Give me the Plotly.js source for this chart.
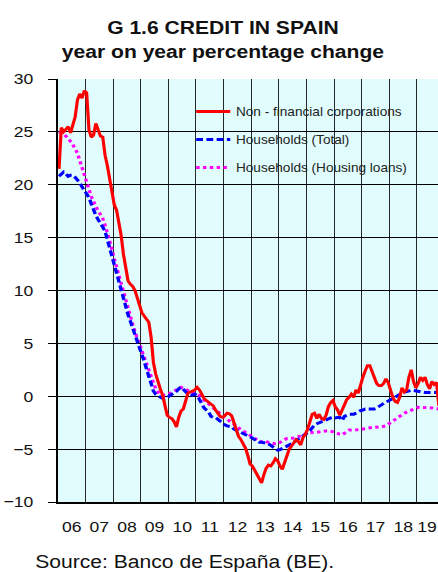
<!DOCTYPE html>
<html><head><meta charset="utf-8">
<script src="https://cdn.plot.ly/plotly-3.0.1.min.js"></script>
<style>
html,body{margin:0;padding:0;overflow:hidden;background:#fff;width:438px;height:572px}
#chart{width:386px;height:572px;transform:scaleX(1.1347);transform-origin:0 0}
</style></head><body><div id="chart"></div><script>
// Monthly series, Jan 2006 onwards (year-on-year % change)
const startYear = 2006;
const yearLabels = ['06','07','08','09','10','11','12','13','14','15','16','17','18','19'];

const nonFinancialCorporations = [
 21.5,25.4,25.0,25.3,25.5,24.9,25.8,26.4,28.0,28.6,28.2,28.9,
 28.7,25.2,24.5,24.7,25.8,25.1,24.6,24.5,22.8,21.8,20.4,19.3,
 18.1,17.6,16.3,15.2,13.4,12.3,10.9,10.6,10.4,10.0,9.2,8.5,
 7.9,7.6,7.35,7.0,5.6,3.2,2.1,1.3,0.7,0.1,-0.8,-1.8,
 -2.0,-2.1,-2.4,-2.9,-2.0,-1.4,-1.2,-0.3,0.3,0.4,0.5,0.6,
 0.85,0.6,0.2,-0.2,-0.4,-0.55,-0.7,-0.9,-1.3,-1.6,-1.9,-2.0,
 -1.85,-1.6,-1.65,-1.85,-2.5,-3.2,-3.8,-4.1,-4.5,-4.9,-5.6,-6.4,
 -6.6,-7.0,-7.4,-7.8,-8.2,-7.4,-6.8,-6.5,-6.6,-6.3,-5.9,-6.1,
 -6.6,-6.9,-6.2,-5.5,-5.0,-4.7,-4.4,-4.1,-4.3,-4.6,-3.9,-3.6,
 -3.1,-2.4,-1.7,-1.6,-2.1,-1.7,-2.1,-2.2,-1.8,-1.0,-0.6,-0.4,
 -1.0,-1.3,-1.8,-1.3,-0.8,-0.3,-0.1,0.2,-0.1,0.6,0.3,1.2,
 1.8,2.4,2.9,2.9,2.3,1.6,1.2,1.0,1.0,1.2,1.65,1.3,
 0.6,-0.1,-0.5,-0.6,-0.1,0.8,0.4,0.6,1.8,2.5,1.4,0.8,
 1.2,1.8,1.5,1.8,1.1,0.7,1.4,1.1,1.3,-0.9
];

const householdsTotal = [
 20.8,21.0,21.2,21.0,20.8,20.9,20.9,20.7,20.5,20.2,19.8,19.5,
 19.2,18.8,18.2,17.6,17.1,16.7,16.4,16.0,15.6,14.8,14.0,13.1,
 12.4,11.7,11.0,10.2,9.3,8.4,7.7,7.1,6.5,5.8,5.1,4.5,
 3.9,3.3,2.6,1.9,1.0,0.5,0.2,0.05,-0.1,-0.2,-0.25,-0.15,
 0.05,0.2,0.35,0.45,0.7,0.85,0.65,0.4,0.2,0.15,0.1,0.2,
 0.1,-0.3,-0.7,-1.1,-1.3,-1.5,-1.9,-2.0,-2.0,-2.2,-2.4,-2.55,
 -2.7,-2.8,-2.85,-2.9,-3.1,-3.2,-3.3,-3.4,-3.55,-3.65,-3.75,-3.85,
 -3.95,-4.1,-4.25,-4.35,-4.35,-4.4,-4.45,-4.5,-4.65,-4.8,-4.95,-5.1,
 -5.05,-4.95,-4.8,-4.7,-4.6,-4.5,-4.35,-4.2,-4.1,-3.95,-3.8,-3.6,
 -3.45,-3.25,-3.0,-2.7,-2.6,-2.5,-2.4,-2.3,-2.2,-2.1,-2.05,-2.0,
 -2.05,-2.0,-2.0,-2.3,-1.9,-1.8,-1.7,-1.7,-1.7,-1.6,-1.45,-1.35,
 -1.3,-1.2,-1.2,-1.2,-1.2,-1.2,-1.1,-0.95,-0.85,-0.65,-0.55,-0.45,
 -0.35,-0.2,-0.1,0.05,0.2,0.3,0.4,0.45,0.55,0.55,0.55,0.5,
 0.45,0.4,0.4,0.35,0.35,0.35,0.35,0.35,0.35,0.35
];

const householdsHousing = [
 25.0,24.9,24.8,24.6,24.4,24.1,23.8,23.4,23.0,22.3,21.6,20.9,
 20.1,19.5,18.9,18.4,17.9,17.5,17.2,16.8,16.2,15.5,14.7,13.9,
 13.0,12.2,11.3,10.6,9.8,8.9,8.1,7.4,6.8,6.1,5.5,4.9,
 4.3,3.7,3.1,2.4,1.8,1.2,0.7,0.4,0.15,0.1,0.1,0.15,
 0.25,0.35,0.5,0.6,0.8,0.85,0.75,0.65,0.55,0.45,0.4,0.3,
 0.2,0.05,-0.15,-0.35,-0.55,-0.75,-0.95,-1.15,-1.3,-1.45,-1.65,-1.85,
 -2.0,-2.15,-2.3,-2.45,-2.6,-2.8,-3.0,-3.15,-3.3,-3.4,-3.55,-3.7,
 -3.8,-3.95,-4.1,-4.3,-4.3,-4.2,-4.3,-4.35,-4.45,-4.5,-4.5,-4.5,
 -4.35,-4.2,-4.1,-4.0,-4.0,-4.0,-3.95,-3.9,-3.85,-3.75,-3.65,-3.55,
 -3.5,-3.45,-3.4,-3.4,-3.4,-3.4,-3.35,-3.3,-3.25,-3.25,-3.3,-3.35,
 -3.4,-3.5,-3.6,-3.65,-3.5,-3.3,-3.2,-3.2,-3.2,-3.2,-3.2,-3.15,
 -3.1,-3.05,-3.0,-2.95,-2.95,-2.95,-2.9,-2.9,-2.9,-2.85,-2.8,-2.65,
 -2.5,-2.3,-2.15,-2.0,-1.85,-1.7,-1.6,-1.5,-1.4,-1.3,-1.2,-1.1,
 -1.05,-1.05,-1.05,-1.05,-1.05,-1.1,-1.1,-1.15,-1.2,-1.2
];

const seriesNames = ['Non - financial corporations','Households (Total)','Households (Housing loans)'];

// month index -> decimal year (mid-month)
const months = nonFinancialCorporations.map((_, i) => startYear + (i + 0.5) / 12);
// label positions: centred in each year, last one nudged left to stay inside the picture
const labelPositions = yearLabels.map((_, i) => startYear + i + (i === yearLabels.length - 1 ? 0.36 : 0.5));

const FONT = 'Liberation Sans, Arial, Helvetica, sans-serif';
const SX = 1.1347; // horizontal stretch applied to the whole figure

const traces = [
  {x: months, y: householdsHousing, name: seriesNames[2], type: 'scatter', mode: 'lines',
   line: {color: '#FF00FF', width: 3, dash: '3px,3px'}, legendgroup: 'c', legendrank: 3},
  {x: months, y: householdsTotal, name: seriesNames[1], type: 'scatter', mode: 'lines',
   line: {color: '#0000FF', width: 3, dash: '6px,3px'}, legendgroup: 'b', legendrank: 2},
  {x: months, y: nonFinancialCorporations, name: seriesNames[0], type: 'scatter', mode: 'lines',
   line: {color: '#FF0000', width: 2.8}, legendgroup: 'a', legendrank: 1}
];

const layout = {
  width: 386, height: 572,
  margin: {l: 51, r: 0, t: 79, b: 70},
  paper_bgcolor: '#FFFFFF',
  plot_bgcolor: '#E0FCFC',
  font: {family: FONT, color: '#111'},
  title: {
    text: '<b>G 1.6 CREDIT IN SPAIN</b><br><b>year on year percentage change</b>',
    font: {family: FONT, size: 18.6, color: '#111'},
    x: 0.509, xanchor: 'center', xref: 'container',
    y: 0.9405, yanchor: 'top', yref: 'container'
  },
  xaxis: {
    range: [startYear, startYear + 13.761],
    tickmode: 'array', tickvals: labelPositions, ticktext: yearLabels,
    ticks: '', showgrid: false, zeroline: false,
    showline: true, linecolor: '#000', linewidth: 1.5,
    tickfont: {family: FONT, size: 15.5, color: '#111'},
    ticklabelstandoff: 10, ticklabeloverflow: 'allow',
    minor: {tickmode: 'linear', tick0: startYear, dtick: 1, showgrid: true, gridcolor: '#1a1a1a', gridwidth: 1 / SX, ticks: ''}
  },
  yaxis: {
    range: [-10, 30],
    tickmode: 'array', tickvals: [-10, -5, 0, 5, 10, 15, 20, 25, 30],
    ticks: 'outside', ticklen: 7, tickwidth: 1, tickcolor: '#000',
    showgrid: true, gridcolor: '#000', gridwidth: 1, zeroline: false,
    showline: true, linecolor: '#000', linewidth: 1.5,
    tickfont: {family: FONT, size: 15.5, color: '#111'},
    ticklabelstandoff: 10
  },
  showlegend: true,
  legend: {
    x: 0.349, xanchor: 'left', y: 0.9574, yanchor: 'top',
    bgcolor: 'rgba(0,0,0,0)', borderwidth: 0,
    font: {family: FONT, size: 12, color: '#222'},
    tracegroupgap: 9, itemwidth: 30
  },
  annotations: [{
    text: 'Source: Banco de España (BE).',
    xref: 'paper', yref: 'paper', x: -0.0657, y: -0.1411,
    xanchor: 'left', yanchor: 'middle', showarrow: false,
    font: {family: FONT, size: 18.6, color: '#111'}
  }]
};

Plotly.newPlot('chart', traces, layout, {displayModeBar: false, staticPlot: true});
</script></body></html>
